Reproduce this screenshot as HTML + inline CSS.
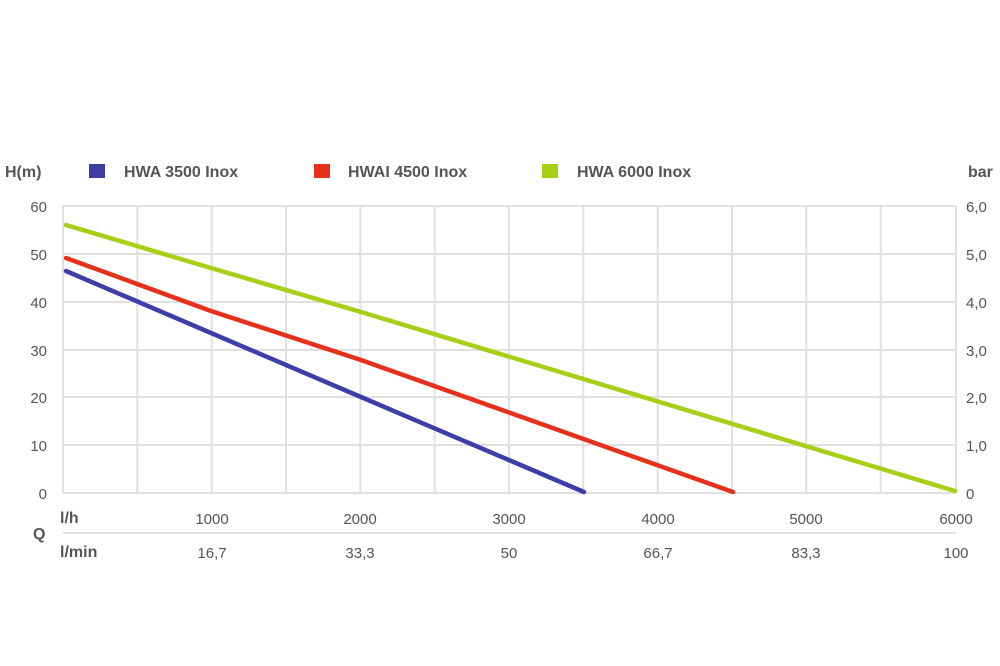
<!DOCTYPE html><html><head><style>body{margin:0;background:#fff}svg{display:block}text{font-family:"Liberation Sans",sans-serif;fill:#555;font-size:15px}</style></head><body>
<svg width="1000" height="666" xmlns="http://www.w3.org/2000/svg">
<g stroke="#e0e0e0" stroke-width="2">
<line x1="63" y1="206" x2="956" y2="206"/><line x1="63" y1="254" x2="956" y2="254"/><line x1="63" y1="302" x2="956" y2="302"/><line x1="63" y1="350" x2="956" y2="350"/><line x1="63" y1="397" x2="956" y2="397"/><line x1="63" y1="445" x2="956" y2="445"/><line x1="63" y1="493" x2="956" y2="493"/>
<line x1="137.3" y1="206" x2="137.3" y2="493"/><line x1="211.7" y1="206" x2="211.7" y2="493"/><line x1="286" y1="206" x2="286" y2="493"/><line x1="360.3" y1="206" x2="360.3" y2="493"/><line x1="434.7" y1="206" x2="434.7" y2="493"/><line x1="509" y1="206" x2="509" y2="493"/><line x1="583.3" y1="206" x2="583.3" y2="493"/><line x1="657.7" y1="206" x2="657.7" y2="493"/><line x1="732" y1="206" x2="732" y2="493"/><line x1="806.3" y1="206" x2="806.3" y2="493"/><line x1="880.7" y1="206" x2="880.7" y2="493"/><line x1="956" y1="206" x2="956" y2="493"/>
<line x1="63" y1="206" x2="63" y2="493"/>
<line x1="63" y1="533" x2="956" y2="533"/>
</g>
<g fill="none" stroke-width="4.5" stroke-linecap="round">
<polyline stroke="#3d3da8" points="66,271 211,333 361,397 584,492"/>
<polyline stroke="#e6301b" points="66,258 211,311 361,360 733,492"/>
<polyline stroke="#a6cf16" points="66,225 211,268 361,312 955,491"/>
</g>
<g font-weight="bold" style="font-size:16px">
<text x="5" y="177" style="font-weight:bold;font-size:16px">H(m)</text>
<rect x="89" y="164" width="16" height="14" fill="#3d3da8"/><text x="124" y="177" style="font-weight:bold;font-size:16px">HWA 3500 Inox</text>
<rect x="314" y="164" width="16" height="14" fill="#e6301b"/><text x="348" y="177" style="font-weight:bold;font-size:16px">HWAI 4500 Inox</text>
<rect x="542" y="164" width="16" height="14" fill="#a6cf16"/><text x="577" y="177" style="font-weight:bold;font-size:16px">HWA 6000 Inox</text>
<text x="968" y="177" style="font-weight:bold;font-size:16px">bar</text>
<text x="60" y="523" style="font-weight:bold;font-size:16px">l/h</text>
<text x="33" y="539" style="font-weight:bold;font-size:16px">Q</text>
<text x="60" y="557" style="font-weight:bold;font-size:16px">l/min</text>
</g>
<g text-anchor="end">
<text x="47" y="212">60</text><text x="47" y="260">50</text><text x="47" y="308">40</text><text x="47" y="356">30</text><text x="47" y="403">20</text><text x="47" y="451">10</text><text x="47" y="499">0</text>
</g>
<g text-anchor="start">
<text x="966" y="212">6,0</text><text x="966" y="260">5,0</text><text x="966" y="308">4,0</text><text x="966" y="356">3,0</text><text x="966" y="403">2,0</text><text x="966" y="451">1,0</text><text x="966" y="499">0</text>
</g>
<g text-anchor="middle">
<text x="212" y="524">1000</text><text x="360" y="524">2000</text><text x="509" y="524">3000</text><text x="658" y="524">4000</text><text x="806" y="524">5000</text><text x="956" y="524">6000</text>
<text x="212" y="558">16,7</text><text x="360" y="558">33,3</text><text x="509" y="558">50</text><text x="658" y="558">66,7</text><text x="806" y="558">83,3</text><text x="956" y="558">100</text>
</g>
</svg></body></html>
